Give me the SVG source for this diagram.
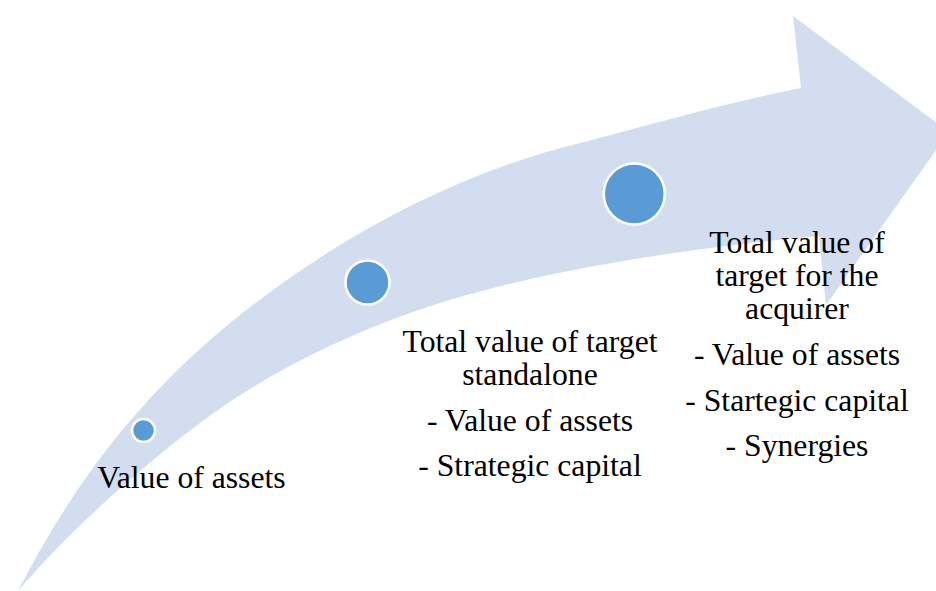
<svg xmlns="http://www.w3.org/2000/svg" width="936" height="591" viewBox="0 0 936 591">
  <style>
    .arrow { fill: #D2DEEF; stroke: none; }
    .dot { fill: #5B9BD5; stroke: #FFFFFF; stroke-width: 2.5; }
    .label { font-family: "Liberation Serif", "Times New Roman", serif; font-size: 31.7px; fill: #000000; text-anchor: middle; }
  </style>
  <rect width="936" height="591" fill="#FFFFFF"/>

  <!-- curved upward arrow -->
  <g id="connectors">
    <path class="arrow" d="M18,591 C70,490 130,410 210,340 C320,245 450,175 580,143 C650,125 730,102 801,88 L793,16 L949,132 L826,305 L819,236 C720,245 560,265 440,303 C360,328 270,370 200,423 C140,468 70,530 18,591 Z"/>
  </g>

  <!-- stage 1 -->
  <g id="stage1">
    <circle class="dot" cx="143.5" cy="430.5" r="11.5"/>
    <text class="label" x="191.5" y="488">Value of assets</text>
  </g>

  <!-- stage 2 -->
  <g id="stage2">
    <circle class="dot" cx="367.5" cy="282.5" r="22"/>
    <text class="label" x="530" y="352">Total value of target</text>
    <text class="label" x="530" y="385">standalone</text>
    <text class="label" x="530" y="431">- Value of assets</text>
    <text class="label" x="530" y="476">- Strategic capital</text>
  </g>

  <!-- stage 3 -->
  <g id="stage3">
    <circle class="dot" cx="634.3" cy="194" r="30.5"/>
    <text class="label" x="797" y="253">Total value of</text>
    <text class="label" x="797" y="286">target for the</text>
    <text class="label" x="797" y="319">acquirer</text>
    <text class="label" x="797" y="365">- Value of assets</text>
    <text class="label" x="797" y="411">- Startegic capital</text>
    <text class="label" x="797" y="456">- Synergies</text>
  </g>
</svg>
